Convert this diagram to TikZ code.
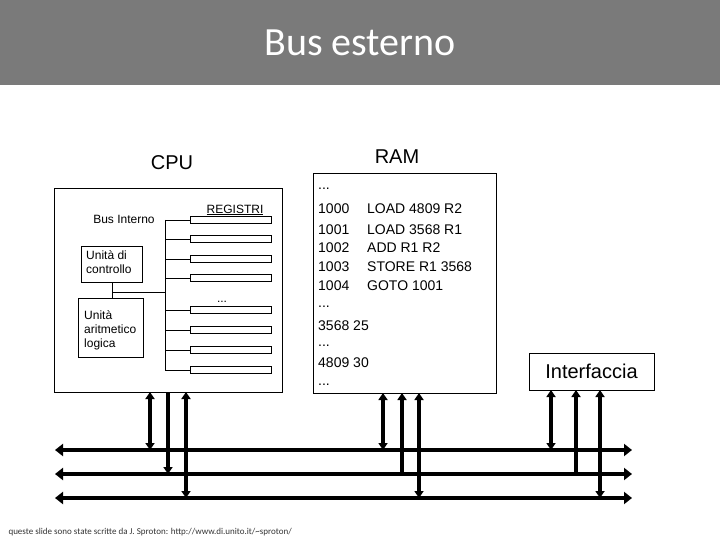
\documentclass[tikz,border=0pt]{standalone}
\usepackage{fontspec}
\setmainfont{Liberation Sans}
\newfontfamily\carl{Carlito}
\usetikzlibrary{arrows.meta}
\newcommand\tdots{...}
\begin{document}
\begin{tikzpicture}[x=1pt,y=-1pt,
  box/.style={draw,line width=0.8pt},
  reg/.style={draw,line width=0.8pt,minimum width=81pt,minimum height=7pt,inner sep=0pt},
  thin/.style={line width=0.8pt},
  bus/.style={line width=4pt,{Triangle[length=8pt,width=12pt]}-{Triangle[length=8pt,width=12pt]}},
  vd/.style={line width=3.5pt,{Triangle[length=7pt,width=9pt]}-{Triangle[length=7pt,width=9pt]}},
  vdn/.style={line width=3.5pt,-{Triangle[length=7pt,width=9pt]}},
  vup/.style={line width=3.5pt,{Triangle[length=7pt,width=9pt]}-},
  lbl/.style={font=\fontsize{12}{14}\selectfont,align=left,inner sep=0pt},
  ram/.style={font=\fontsize{14}{16}\selectfont,anchor=base west,inner sep=0pt}]
\useasboundingbox (0,0) rectangle (720,540);
\fill[fill=black!52] (0,0) rectangle (720,85);
\node[text=white,font=\carl\fontsize{40}{44}\selectfont] (title) at (360,43) {Bus esterno};
% CPU
\node[font=\fontsize{20}{22}\selectfont] (cpul) at (172,163) {CPU};
\draw[box] (54,188) rectangle (282,392);
\node[lbl] (bi) at (124,219) {Bus Interno};
\node[lbl] (regl) at (235,210) {\underline{REGISTRI}};
\draw[box] (81,246) rectangle (142,282);
\node[lbl,anchor=north west] (cu) at (86,250) {Unità di\\controllo};
\draw[box] (78,298) rectangle (143,357);
\node[lbl,anchor=north west] (alu) at (84,310) {Unità\\aritmetico\\logica};
\draw[thin] (112,282) -- (112,298);
\draw[thin] (112,292) -- (165,292);
\draw[thin] (165,220) -- (165,370);
\foreach \y/\n in {220/1,239/2,259/3,278/4,310/5,330/6,350/7,370/8}{
  \node[reg,anchor=west] (r\n) at (190,\y) {};
  \draw[thin] (165,\y) -- (r\n.west);
}
\node[lbl,anchor=base] (dots) at (222,302) {\tdots};
% RAM
\node[font=\fontsize{20}{22}\selectfont] (raml) at (397,157) {RAM};
\draw[box] (313,173) rectangle (496,393);
\foreach \y/\a/\b in {214/1000/LOAD 4809 R2,234/1001/LOAD 3568 R1,252/1002/ADD R1 R2,271/1003/STORE R1 3568,290/1004/GOTO 1001}{
  \node[ram] at (318,\y) {\a};
  \node[ram] at (367,\y) {\b};
}
\foreach \y/\t in {190/\tdots,307/\tdots,330/3568 25,346/\tdots,367/4809 30,385/\tdots}{
  \node[ram] at (318,\y) {\t};
}
% Interfaccia
\node[box,font=\fontsize{20}{22}\selectfont,minimum width=125pt,minimum height=37pt] (int) at (591.5,371.5) {Interfaccia};
% buses
\coordinate (b1l) at (55,450); \coordinate (b1r) at (632,450);
\coordinate (b2l) at (55,474); \coordinate (b2r) at (632,474);
\coordinate (b3l) at (55,498); \coordinate (b3r) at (632,498);
\draw[bus] (b1l) -- (b1r);
\draw[bus] (b2l) -- (b2r);
\draw[bus] (b3l) -- (b3r);
% verticals
\draw[vd] (150,392) -- (150,450);
\draw[vdn] (168,392) -- (168,474);
\draw[vd] (186,392) -- (186,498);
\draw[vd] (383,393) -- (383,450);
\draw[vup] (402,393) -- (402,474);
\draw[vd] (419,393) -- (419,498);
\draw[vd] (551,390) -- (551,450);
\draw[vup] (576,390) -- (576,474);
\draw[vd] (600,390) -- (600,498);
\node[font=\carl\fontsize{9}{10}\selectfont,anchor=west,text=black!80] (foot) at (5,532) {queste slide sono state scritte da J. Sproton: http://www.di.unito.it/\textasciitilde sproton/};
\end{tikzpicture}
\end{document}
